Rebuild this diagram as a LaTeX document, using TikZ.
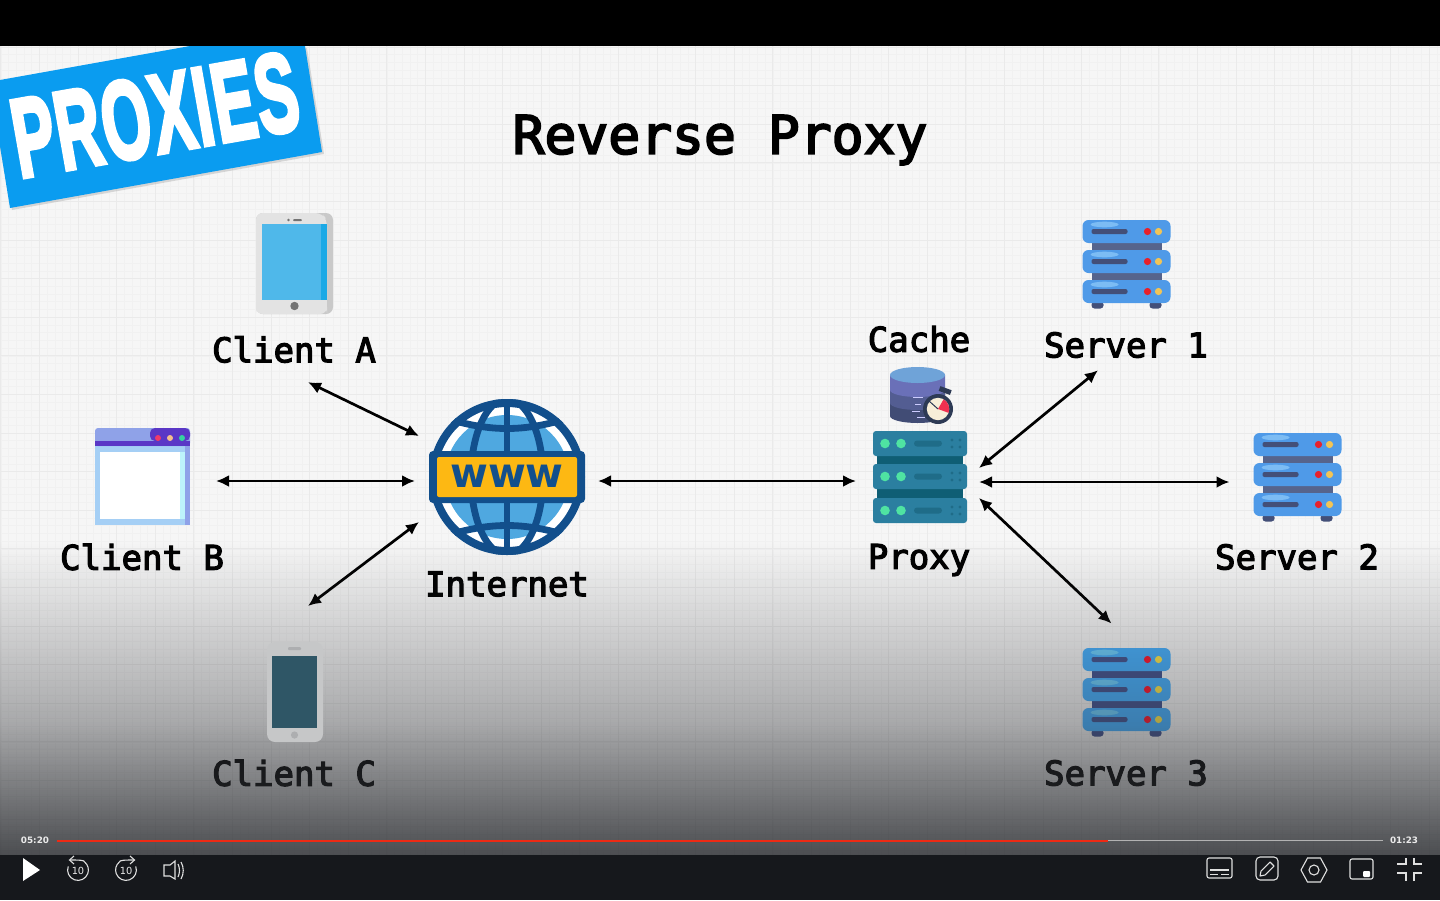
\documentclass[tikz,border=0pt]{standalone}
\usepackage{fontspec}
\usepackage{graphicx}
\usetikzlibrary{arrows.meta}
\setmainfont{Liberation Sans}
\setmonofont[FakeBold=3.5]{DejaVu Sans Mono}
\newfontfamily\bannerfont[FakeBold=4,LetterSpace=2.5]{Liberation Sans}
\newfontfamily\uifont{DejaVu Sans}
\definecolor{bgpaper}{HTML}{F6F6F6}
\definecolor{gridmajor}{HTML}{EAEAEA}
\definecolor{gridminor}{HTML}{F1F1F1}
\definecolor{bannerblue}{HTML}{0A9CF0}
\definecolor{bardark}{HTML}{16181C}
\definecolor{dimcol}{HTML}{2D2F33}
\definecolor{globeblue}{HTML}{124F8C}
\definecolor{globesky}{HTML}{4FA8E0}
\definecolor{wwwyellow}{HTML}{FDB813}
\definecolor{srvblue}{HTML}{4F9AE8}
\definecolor{srvlight}{HTML}{7CBCF4}
\definecolor{srvdark}{HTML}{434F78}
\definecolor{srvjoin}{HTML}{56648C}
\definecolor{srvred}{HTML}{E8202A}
\definecolor{srvyellow}{HTML}{F2C455}
\definecolor{pxteal}{HTML}{2B7FA0}
\definecolor{pxdark}{HTML}{0F5E74}
\definecolor{pxbar}{HTML}{1F6C88}
\definecolor{pxgreen}{HTML}{4FE3A2}
\definecolor{tabscreen}{HTML}{4FB8EA}
\definecolor{tabedge}{HTML}{1BA9E6}
\definecolor{brbody}{HTML}{A5CFF5}
\definecolor{brhead}{HTML}{8FA2E8}
\definecolor{brpurple}{HTML}{5A37C6}
\definecolor{brred}{HTML}{F03A6A}
\definecolor{brpeach}{HTML}{F6BE8C}
\definecolor{brgreen}{HTML}{35D3A0}
\definecolor{brcyan}{HTML}{BDF4FB}
\definecolor{phbody}{HTML}{C6C7C8}
\definecolor{phdetail}{HTML}{ADAEB0}
\definecolor{phscreen}{HTML}{2F5666}
\definecolor{dbone}{HTML}{414C75}
\definecolor{dbtwo}{HTML}{535D92}
\definecolor{dbthree}{HTML}{6A70B8}
\definecolor{dbtop}{HTML}{6FA3D8}
\definecolor{swdark}{HTML}{2D3A55}
\definecolor{swface}{HTML}{F7EED8}
\definecolor{swred}{HTML}{F03050}
\definecolor{barred}{HTML}{EE2A14}
\tikzset{
  iconbox/.style={inner sep=0pt, outer sep=0pt, minimum width=#1},
  label/.style={font=\ttfamily\fontsize{17}{20}\selectfont, text=black, inner sep=0pt},
  link/.style={line width=1.35pt, black, {Latex[length=6.5pt,width=6pt]}-{Latex[length=6.5pt,width=6pt]}},
  ui/.style={draw=white!88!black, line width=0.55pt},
  uitext/.style={font=\uifont\fontsize{4.9}{6}\selectfont, text=white!92!black, inner sep=0pt},
  timetext/.style={font=\uifont\bfseries\fontsize{4.4}{6}\selectfont, text=white!92!black, inner sep=0pt},
  srvunit/.pic={
    \fill[srvjoin] (-35,-24) rectangle (35,-14);
    \fill[srvjoin] (-35,6) rectangle (35,16);
    \fill[srvdark, rounded corners=1.5pt] (-35,38) rectangle (-23,45);
    \fill[srvdark, rounded corners=1.5pt] (23,38) rectangle (35,45);
    \foreach \r in {-32,-2,28}{
      \fill[srvblue, rounded corners=3pt] (-44,\r-11.5) rectangle (44,\r+11.5);
      \fill[srvlight] (-22,\r-7) ellipse [x radius=7pt, y radius=1.4pt];
      \fill[srvdark, rounded corners=1pt] (-35,\r-2.5) rectangle (1,\r+2.5);
      \fill[srvred] (21,\r) circle [radius=1.8pt];
      \fill[srvyellow] (32,\r) circle [radius=1.8pt];
    }
  }
}
\begin{document}
\begin{tikzpicture}[x=0.5pt,y=-0.5pt]
\useasboundingbox (0,0) rectangle (1440,900);
% paper and grid
\fill[bgpaper] (0,46) rectangle (1440,856);
\begin{scope}
  \clip (0,46) rectangle (1440,856);
  \begin{scope}[shift={(116.7,240)}]
    \draw[gridminor, line width=0.3pt, step=3.86pt] (-116.7,-194) grid (1323.3,616);
    \draw[gridmajor, line width=0.45pt, step=19.3pt] (-116.7,-194) grid (1323.3,616);
  \end{scope}
\end{scope}
% black top
\fill[black] (0,0) rectangle (1440,46);
% title
\node[font=\ttfamily\fontsize{26.5}{30}\selectfont, text=black, inner sep=0pt] (title) at (720,140) {Reverse Proxy};

% banner
\fill[black!45, opacity=0.3] (0,82) -- (192,48) -- (307,48) -- (324,154) -- (12,210) -- (0,148) -- cycle;
\fill[bannerblue] (0,80) -- (190,46) -- (305,46) -- (322,152) -- (10,208) -- (0,146) -- cycle;
\node[rotate=10, text=white, inner sep=0pt, font=\bannerfont\bfseries\fontsize{56}{60}\selectfont] (banner) at (155,115) {\scalebox{0.56}[1]{PROXIES}};

% tablet (client A)
\node[iconbox=38.5pt, minimum height=50.5pt] (tablet) at (294.5,263.5) {};
\fill[black!21, rounded corners=3.5pt] (256,213) rectangle (333,314);
\fill[black!11, rounded corners=3.5pt] (256,213) -- (322,213) -- (327,220) -- (327,306) -- (256,314) -- cycle;
\fill[black!11, rounded corners=3.5pt] (256,306) rectangle (327,314);
\fill[black!11] (256,300) rectangle (327,310);
\fill[tabscreen] (262,224) rectangle (327,300);
\fill[tabedge] (321,224) rectangle (327,300);
\fill[black!55] (294.5,306) circle [radius=2.1pt];
\fill[black!55] (288.5,220) circle [radius=0.7pt];
\fill[black!55, rounded corners=0.5pt] (293,219) rectangle (302,221);

% browser (client B)
\node[iconbox=47.5pt, minimum height=48.5pt] (browser) at (142.5,476.5) {};
\fill[brbody] (95,446) rectangle (190,525);
\fill[brhead, rounded corners=1.5pt] (95,428) rectangle (190,446);
\fill[brpurple] (95,441) rectangle (190,446);
\fill[brpurple, rounded corners=2.5pt] (150,441) -- (150,428) -- (190,428) -- (190,441) -- cycle;
\fill[brred] (158,438) circle [radius=1.5pt];
\fill[brpeach] (170,438) circle [radius=1.5pt];
\fill[brgreen] (182,438) circle [radius=1.5pt];
\fill[white] (100,452) rectangle (180,519);
\fill[brcyan] (180,452) rectangle (185,519);
\fill[brhead] (185,446) rectangle (190,525);

% globe
\node[iconbox=79pt, minimum height=79pt] (internet) at (507,477) {};
\begin{scope}
  \clip (507,477) circle [radius=39pt];
  \fill[white] (507,477) circle [radius=39pt];
  \fill[globesky] (507,477) circle [radius=31pt];
  \draw[globeblue, line width=3.4pt] (507,398) -- (507,556);
  \draw[globeblue, line width=3.4pt] (507,477) ellipse [x radius=18pt, y radius=39pt];
  \draw[globeblue, line width=3.4pt] (445,418) .. controls (490,432) and (524,432) .. (569,418);
  \draw[globeblue, line width=3.4pt] (445,536) .. controls (490,522) and (524,522) .. (569,536);
\end{scope}
\draw[globeblue, line width=4pt] (507,477) circle [radius=37pt];
\fill[globeblue, rounded corners=2pt] (429,451) rectangle (585,503);
\fill[wwwyellow, rounded corners=1pt] (437,457) rectangle (577,497);
\node[font=\uifont\bfseries\fontsize{20.5}{24}\selectfont, text=globeblue, inner sep=0pt] (wwwtext) at (507,476) {www};

% cache database
\node[iconbox=32pt, minimum height=30pt] (cache) at (921,396) {};
\fill[dbone] (890,390) arc [start angle=180, end angle=360, x radius=13.75pt, y radius=3.5pt] -- (945,416) arc [start angle=0, end angle=-180, x radius=13.75pt, y radius=3.5pt] -- cycle;
\fill[dbtwo] (890,390) -- (890,403) arc [start angle=180, end angle=360, x radius=13.75pt, y radius=3.5pt] -- (945,390) -- cycle;
\fill[dbthree] (890,375) -- (890,390) arc [start angle=180, end angle=360, x radius=13.75pt, y radius=3.5pt] -- (945,375) -- cycle;
\fill[dbtop] (917.5,375) ellipse [x radius=13.75pt, y radius=4pt];
\draw[white!80!blue, line width=0.5pt] (913,397) -- (923,397) (915,404) -- (921,404) (912,411) -- (920,411) (917,417) -- (925,417);
\fill[swdark, rotate around={-20:(945,391)}] (939,388) rectangle (951,393);
\fill[swdark] (938,409) circle [radius=7.5pt];
\fill[swface] (938,409) circle [radius=5.6pt];
\fill[swred] (938,409) -- ++(60:5.6pt) arc [start angle=60, end angle=-20, radius=5.6pt] -- cycle;
\draw[swdark, line width=0.5pt] (938,409) -- (929,401);

% proxy server
\node[iconbox=47pt, minimum height=46pt] (proxy) at (920,477) {};
\fill[pxdark] (877,456) rectangle (963,464);
\fill[pxdark] (877,489) rectangle (963,498);
\foreach \ry in {443.5,476.5,510.5}{
  \fill[pxteal, rounded corners=1.5pt] (873,\ry-12.5) rectangle (967,\ry+12.5);
  \fill[pxgreen] (885,\ry) circle [radius=2.4pt];
  \fill[pxgreen] (901,\ry) circle [radius=2.4pt];
  \fill[pxbar, rounded corners=1.5pt] (914,\ry-3) rectangle (942,\ry+3);
  \foreach \dx in {952,960}{
    \fill[pxbar] (\dx,\ry-3.5) circle [radius=0.8pt];
    \fill[pxbar] (\dx,\ry+3.5) circle [radius=0.8pt];
  }
}

% servers
\node[iconbox=44pt, minimum height=44pt] (server1) at (1126.5,263.5) {};
\pic at (1126.5,263.5) {srvunit};
\node[iconbox=44pt, minimum height=44pt] (server2) at (1297.5,476.5) {};
\pic at (1297.5,476.5) {srvunit};
\node[iconbox=44pt, minimum height=44pt] (server3) at (1126.5,691.5) {};
\begin{scope}
  % brighter source colours: this unit sits under the dimming band
  \definecolor{srvblue}{HTML}{45B0FF}
  \definecolor{srvlight}{HTML}{6CD0FF}
  \definecolor{srvred}{HTML}{FF142B}
  \definecolor{srvyellow}{HTML}{FFE84A}
  \definecolor{srvdark}{HTML}{43538F}
  \definecolor{srvjoin}{HTML}{43538F}
  \pic at (1126.5,691.5) {srvunit};
\end{scope}

% labels
\node[label] (lblA) at (294,349.5) {Client A};
\node[label] (lblB) at (142,557) {Client B};
\node[label] (lblC) at (294,773) {Client C};
\node[label] (lblI) at (507,584) {Internet};
\node[label] (lblK) at (919,339) {Cache};
\node[label] (lblP) at (919,560) {Proxy};
\node[label] (lblS1) at (1126,345) {Server 1};
\node[label] (lblS2) at (1297,557) {Server 2};
\node[label] (lblS3) at (1126,773) {Server 3};

% phone node (client C) is drawn after the dimming band
\node[iconbox=28pt, minimum height=50pt] (phone) at (295,692) {};

% connectors
\draw[link] ([shift={(14,19)}]lblA.south) -- ([shift={(-88,-41)}]internet.center);
\draw[link] ([shift={(26,4.5)}]browser.east) -- ([shift={(-92,4)}]internet.center);
\draw[link] ([shift={(13,-36)}]phone.north) -- ([shift={(-88,45)}]internet.center);
\draw[link] ([shift={(91,4)}]internet.center) -- ([shift={(-64,4)}]proxy.center);
\draw[link] ([shift={(59,-9)}]proxy.center) -- ([shift={(-28,12)}]lblS1.south);
\draw[link] ([shift={(59,5)}]proxy.center) -- ([shift={(-24,5.5)}]server2.west);
\draw[link] ([shift={(59,21)}]proxy.center) -- ([shift={(-15,-24)}]server3.north);

% bottom dim, in pixel-aligned strips
\foreach \sy in {540,542,...,854}{
  \pgfmathsetmacro{\op}{(\sy<620)?(0.002125*(\sy-540)):((\sy<720)?(0.17+0.0021*(\sy-620)):(0.38+0.00346*(\sy-720)))}
  \fill[dimcol, fill opacity=\op] (0,\sy) rectangle (1440,\sy+2);
}

% phone (client C)
\fill[phbody, rounded corners=4pt] (267,642) rectangle (323,742);
\fill[phscreen] (272,656) rectangle (317,728);
\fill[phdetail] (294.5,735) circle [radius=1.8pt];
\fill[phdetail, rounded corners=0.5pt] (288,647) rectangle (301,650);

% player
\fill[bardark] (0,855) rectangle (1440,900);
\draw[black!30, line width=0.5pt] (57,840.5) -- (1383,840.5);
\draw[barred, line width=1pt] (57,840.5) -- (1108,840.5);
\node[timetext] (tleft) at (35,840.5) {05:20};
\node[timetext] (tright) at (1404,840.5) {01:23};
\fill[white] (23,858) -- (40,870) -- (23,881) -- cycle;
% back 10
\draw[ui] (78,870) ++(160:5.2pt) arc [start angle=160, end angle=410, radius=5.2pt] .. controls (85,860) and (78,860) .. (70,860);
\draw[ui] (74,856) -- (69.5,860) -- (74,864);
\node[uitext] at (78,870.5) {10};
% forward 10
\draw[ui] (126,870) ++(20:5.2pt) arc [start angle=20, end angle=-230, radius=5.2pt] .. controls (119,860) and (126,860) .. (134,860);
\draw[ui] (130,856) -- (134.5,860) -- (130,864);
\node[uitext] at (126,870.5) {10};
% speaker
\draw[ui] (164,865) -- (170,865) -- (175,861) -- (175,879) -- (170,876) -- (164,876) -- cycle;
\draw[ui] (178,864) .. controls (180,868) and (180,873) .. (178,877);
\draw[ui] (181,862) .. controls (184,867) and (184,874) .. (181,879);
% captions
\draw[ui, rounded corners=1pt] (1207,858) rectangle (1232,878);
\draw[ui] (1210,870) -- (1229,870) (1210,874.5) -- (1218,874.5) (1221,874.5) -- (1229,874.5);
% notes
\draw[ui, rounded corners=2pt] (1256,857) rectangle (1278,880);
\draw[ui, line join=round] (1260,876) -- (1261,871) -- (1270,862) -- (1274,866) -- (1265,875) -- cycle;
% hexagon
\draw[ui] (1301,870) -- (1307.5,858) -- (1320.5,858) -- (1327,870) -- (1320.5,882) -- (1307.5,882) -- cycle;
\draw[ui] (1314,870) circle [radius=2.5pt];
% picture in picture
\draw[ui, rounded corners=1pt] (1350,859) rectangle (1373,879);
\fill[white, rounded corners=0.5pt] (1363,871) rectangle (1370,877);
% fullscreen exit
\draw[ui] (1397,864) -- (1406,864) -- (1406,858);
\draw[ui] (1414,858) -- (1414,864) -- (1422,864);
\draw[ui] (1397,873) -- (1406,873) -- (1406,881);
\draw[ui] (1414,881) -- (1414,873) -- (1422,873);
\end{tikzpicture}
\end{document}
